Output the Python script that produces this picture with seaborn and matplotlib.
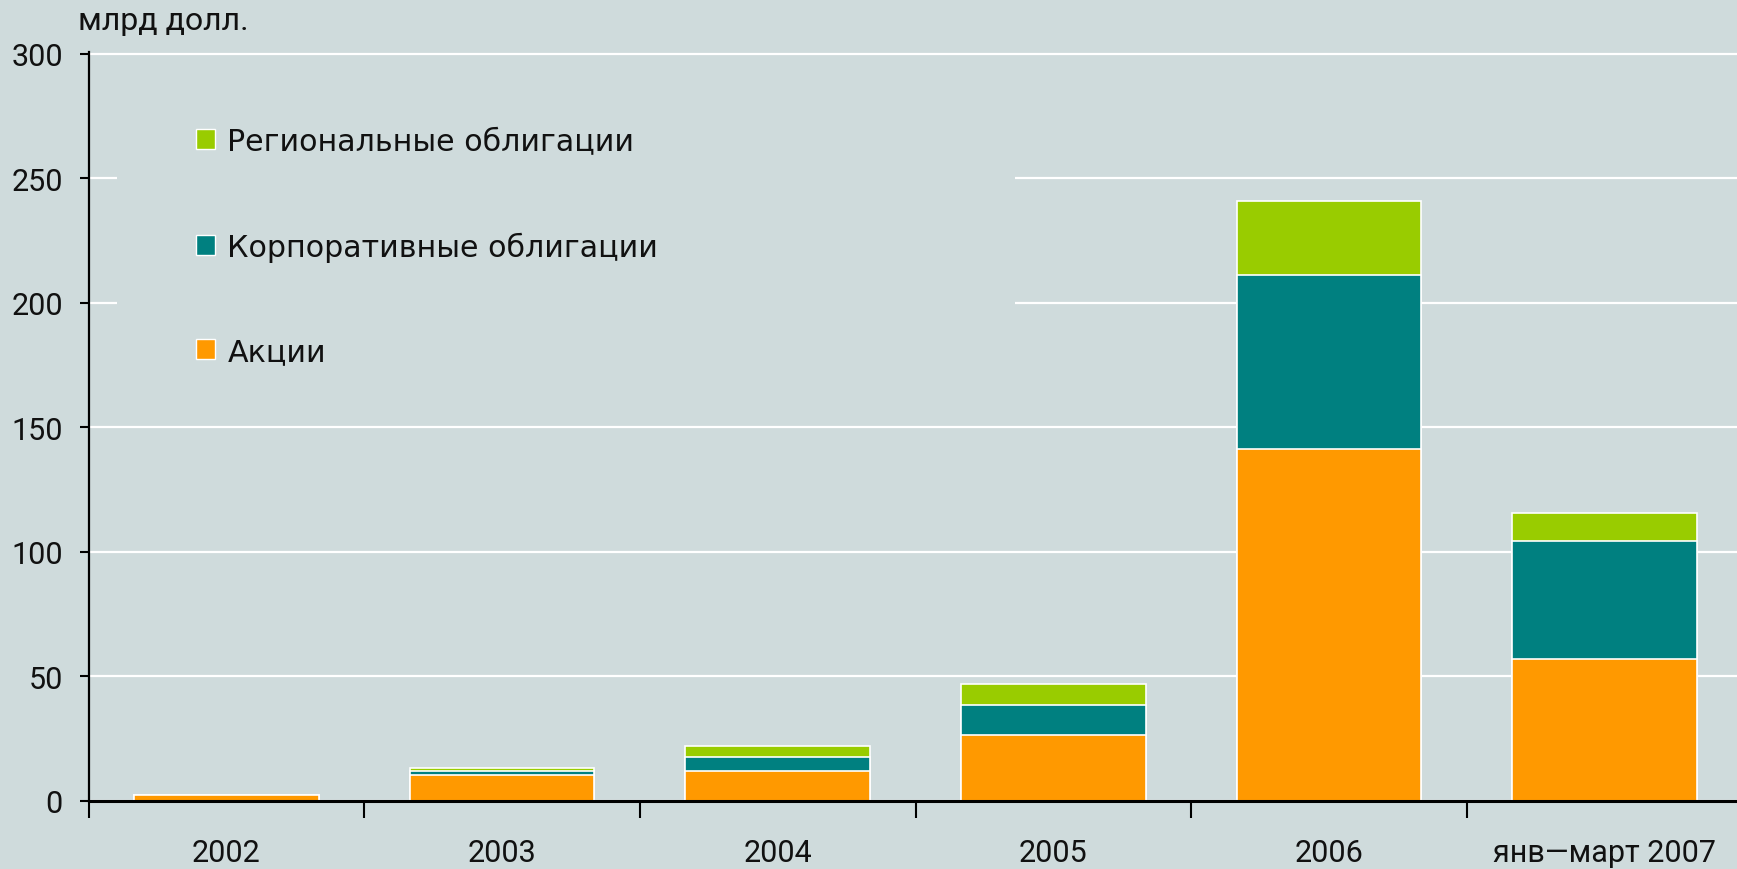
import numpy as np
import pandas as pd
import seaborn as sns
import matplotlib.pyplot as plt
from matplotlib.patches import Rectangle, Patch

# данные: объём размещений, млрд долл.
periods = ['2002', '2003', '2004', '2005', '2006', 'янв—март 2007']
akcii = [2.3, 10.2, 12.0, 26.5, 141.0, 56.8]
korp_obl = [0.0, 1.5, 5.5, 11.9, 70.0, 47.4]
region_obl = [0.0, 1.3, 4.3, 8.4, 29.7, 11.4]
y_ticks = [0, 50, 100, 150, 200, 250, 300]

labels = ['Региональные облигации', 'Корпоративные облигации', 'Акции']

bg = '#cfdbdc'
c_region = '#99cc00'
c_korp = '#008080'
c_akcii = '#ff9900'

sns.set_theme(style='white')
plt.rcParams['font.family'] = ['Roboto', 'DejaVu Sans']

df = pd.DataFrame({'period': periods, 'akcii': akcii,
                   'korp': korp_obl, 'region': region_obl})
df['korp_top'] = df['akcii'] + df['korp']
df['region_top'] = df['korp_top'] + df['region']

fig = plt.figure(figsize=(17.37, 8.70), dpi=100, facecolor=bg)
ax = fig.add_axes([0.051, 0.0787, 0.949, 0.8602])
ax.set_facecolor(bg)

# stacked bars: draw the totals first, then the lower layers on top
bar_kw = dict(width=0.67, edgecolor='white', linewidth=1.2, order=periods)
sns.barplot(data=df, x='period', y='region_top', color=c_region, saturation=1, ax=ax, **bar_kw)
sns.barplot(data=df, x='period', y='korp_top', color=c_korp, saturation=1, ax=ax, **bar_kw)
sns.barplot(data=df, x='period', y='akcii', color=c_akcii, saturation=1, ax=ax, **bar_kw)

ax.set_xlim(-0.5, 5.48)
ax.set_ylim(0, 300.6)
ax.set_xlabel('')
ax.set_ylabel('')

# сетка
ax.set_yticks(y_ticks)
ax.yaxis.grid(True, color='white', linewidth=1.6)
ax.set_axisbelow(True)
# плашка под легендой закрывает сетку
ax.add_patch(Rectangle((0.017, 0.54), 0.545, 0.40, transform=ax.transAxes,
                       facecolor=bg, edgecolor='none', zorder=0.8))

ax.tick_params(axis='y', left=True, length=6.5, width=1.5, color='black',
               pad=12, labelsize=22, labelcolor='#111111')
ax.set_xticks(range(len(periods)))
ax.set_xticklabels(periods)
ax.set_xticks(np.arange(-0.5, len(periods) - 1, 1), minor=True)
ax.tick_params(axis='x', which='major', length=0, pad=27, labelsize=22, labelcolor='#111111')
ax.tick_params(axis='x', which='minor', bottom=True, length=12, width=1.5, color='black')

for s in ['top', 'right']:
    ax.spines[s].set_visible(False)
ax.spines['left'].set_color('black')
ax.spines['left'].set_linewidth(1.6)
ax.spines['bottom'].set_color('black')
ax.spines['bottom'].set_linewidth(2.2)

handles = [Patch(facecolor=c, edgecolor='white', linewidth=1)
           for c in [c_region, c_korp, c_akcii]]
ax.legend(handles, labels, loc='upper left', bbox_to_anchor=(0.065, 0.9),
          frameon=False, prop={'family': 'DejaVu Sans', 'size': 21.7},
          labelspacing=2.5, handlelength=0.65, handleheight=0.65,
          handletextpad=0.4, borderpad=0, borderaxespad=0, labelcolor='#111111')

fig.text(0.045, 0.975, 'млрд долл.', fontsize=23, va='center', ha='left', color='#111111')

plt.savefig('out.png', dpi=100, facecolor=bg)
